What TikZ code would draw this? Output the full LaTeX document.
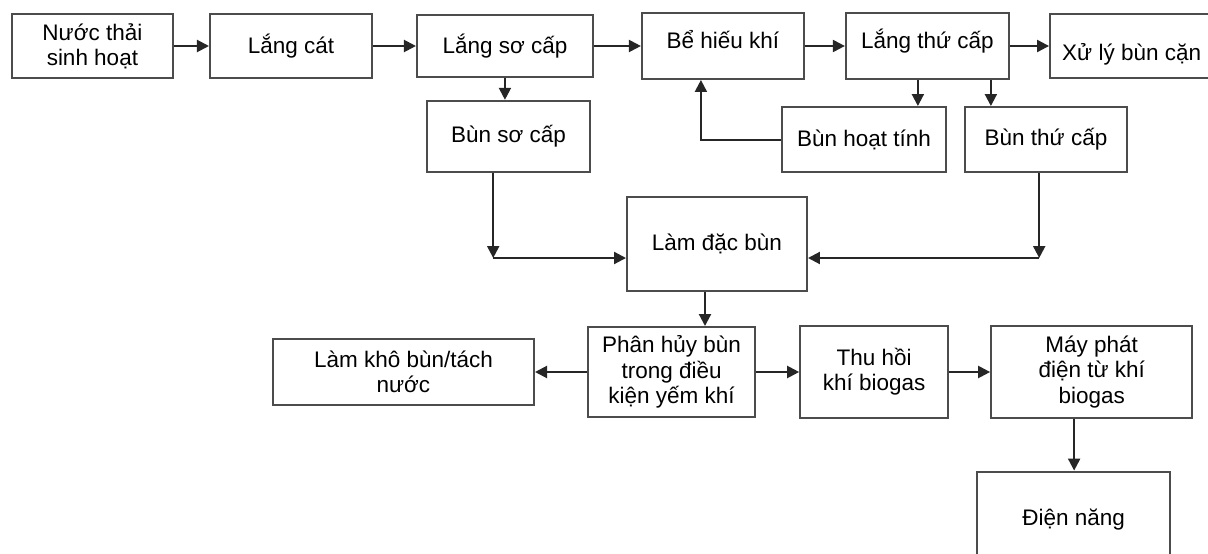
\documentclass[tikz,border=0pt]{standalone}
\usepackage{fontspec}
\setmainfont{Liberation Sans}
\usetikzlibrary{arrows.meta,positioning,calc}

\begin{document}
\begin{tikzpicture}[
    block/.style={rectangle, draw=black!70, line width=1.4pt, align=center, inner sep=2pt, font=\fontsize{16}{18}\selectfont},
    flow/.style={draw=black!85, line width=1.5pt, -{Triangle[length=0.3cm,width=0.3cm]}}
]
    \useasboundingbox (0,0) rectangle (30.2,-13.825);
    \clip (0,0) rectangle (30.2,-13.825);

    % main line
    \node[block, minimum width=4.03cm, minimum height=1.58cm] (nuoc) at (2.31,-1.15) {Nước thải\\sinh hoạt};
    \node[block, minimum width=4.05cm, minimum height=1.58cm, right=0.875cm of nuoc] (langcat) {Lắng cát};
    \node[block, minimum width=4.4cm, minimum height=1.55cm, right=1.075cm of langcat] (langso) {Lắng sơ cấp};
    \node[block, minimum width=4.05cm, minimum height=1.65cm, text height=0.5cm, text depth=0.4cm, right=1.175cm of langso] (behieu) {Bể hiếu khí};
    \node[block, minimum width=4.08cm, minimum height=1.65cm, text height=0.5cm, text depth=0.4cm, right=1.0cm of behieu] (langthu) {Lắng thứ cấp};
    \node[block, minimum width=4.08cm, minimum height=1.6cm, text height=0.8cm, text depth=0.1cm, right=0.975cm of langthu] (xuly) {Xử lý bùn cặn};

    % sludge
    \node[block, minimum width=4.08cm, minimum height=1.78cm] (bunso) at (12.71,-3.41) {Bùn sơ cấp};
    \node[block, minimum width=4.1cm, minimum height=1.63cm] (bunhoat) at (21.6,-3.49) {Bùn hoạt tính};
    \node[block, minimum width=4.05cm, minimum height=1.63cm] (bunthu) at (26.15,-3.49) {Bùn thứ cấp};
    \node[block, minimum width=4.5cm, minimum height=2.35cm] (lamdac) at (17.925,-6.1) {Làm đặc bùn};

    % digestion
    \node[block, minimum width=4.18cm, minimum height=2.25cm] (phanhuy) at (16.79,-9.3) {Phân hủy bùn\\trong điều\\kiện yếm khí};
    \node[block, minimum width=6.53cm, minimum height=1.63cm, left=1.3cm of phanhuy] (lamkho) {Làm khô bùn/tách\\nước};
    \node[block, minimum width=3.7cm, minimum height=2.28cm, right=1.075cm of phanhuy] (thuhoi) {Thu hồi\\khí biogas};
    \node[block, minimum width=5.03cm, minimum height=2.28cm, right=1.025cm of thuhoi] (mayphat) {Máy phát\\điện từ khí\\biogas};
    \node[block, minimum width=4.83cm, minimum height=2.4cm, below=1.3cm of mayphat, xshift=-0.45cm] (diennang) {Điện năng};

    \coordinate (lcorner) at (12.33,-6.45);
    \coordinate (rcorner) at (25.98,-6.45);

    \draw[flow] (nuoc) -- (langcat);
    \draw[flow] (langcat) -- (langso);
    \draw[flow] (langso) -- (behieu);
    \draw[flow] (behieu) -- (langthu);
    \draw[flow] (langthu) -- (xuly);
    \draw[flow] (langso.south) -- (langso.south |- bunso.north);
    \draw[flow] ([xshift=-0.24cm]langthu.south) -- ([xshift=-0.24cm]langthu.south |- bunhoat.north);
    \draw[flow] ([xshift=1.585cm]langthu.south) -- ([xshift=1.585cm]langthu.south |- bunthu.north);
    \draw[flow] (bunhoat.west) -| ([xshift=-0.55cm]behieu.south);
    \draw[flow] (lcorner |- bunso.south) -- (lcorner);
    \draw[flow] (lcorner) -- (lcorner -| lamdac.west);
    \draw[flow] (rcorner |- bunthu.south) -- (rcorner);
    \draw[flow] (rcorner) -- (rcorner -| lamdac.east);
    \draw[flow] ([xshift=-0.3cm]lamdac.south) -- ([xshift=-0.3cm]lamdac.south |- phanhuy.north);
    \draw[flow] (phanhuy) -- (lamkho);
    \draw[flow] (phanhuy) -- (thuhoi);
    \draw[flow] (thuhoi) -- (mayphat);
    \draw[flow] ([xshift=-0.44cm]mayphat.south) -- ([xshift=-0.44cm]mayphat.south |- diennang.north);
\end{tikzpicture}
\end{document}
